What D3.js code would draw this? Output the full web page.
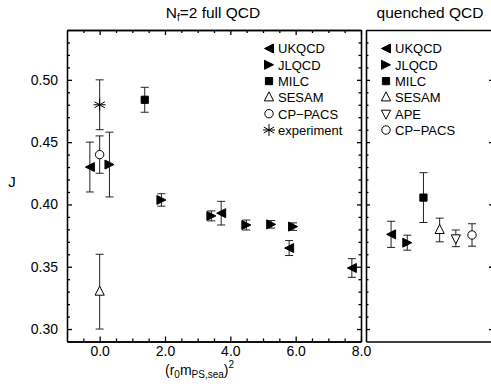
<!DOCTYPE html>
<html>
<head>
<meta charset="utf-8">
<script src="https://cdn.jsdelivr.net/npm/d3@7"></script>
<style>
  body { margin: 0; background: #fff; }
  svg { font-family: "Liberation Sans", Arial, sans-serif; }
  .axis path, .axis line { stroke: #000; stroke-width: 1.3; }
</style>
</head>
<body>
<svg id="chart" width="491" height="387"></svg>
<script>
// values: [x, J, error]
const ukqcdFull = [[-0.3, 0.430, 0.020], [3.72, 0.393, 0.0095], [5.80, 0.365, 0.006], [7.72, 0.349, 0.0075]];
const jlqcdFull = [[0.3, 0.432, 0.026], [1.89, 0.4036, 0.005], [3.42, 0.3908, 0.004], [4.49, 0.3835, 0.004], [5.25, 0.384, 0.003], [5.92, 0.3822, 0.003]];
const milcFull = [[1.38, 0.484, 0.010]];
const sesamFull = [[0.0, 0.330, 0.030]];
const cppacsFull = [[0.0, 0.440, 0.015]];
const experiment = [[0.0, 0.480, 0.020]];

const quenchedNames = ['UKQCD', 'JLQCD', 'MILC', 'SESAM', 'APE', 'CP-PACS'];
const quenchedJ = [0.376, 0.3693, 0.4055, 0.3795, 0.3728, 0.3755];
const quenchedErr = [0.0105, 0.006, 0.020, 0.0095, 0.0067, 0.009];

const fullLegend = ['UKQCD', 'JLQCD', 'MILC', 'SESAM', 'CP-PACS', 'experiment'];
const xTicks = [0, 2, 4, 6, 8];
const yTicks = [0.30, 0.35, 0.40, 0.45, 0.50];

const symbolOf = {
  'UKQCD': 'left', 'JLQCD': 'right', 'MILC': 'square', 'SESAM': 'up',
  'APE': 'down', 'CP-PACS': 'circle', 'experiment': 'star'
};

const svg = d3.select('#chart');
const plotTop = 30, plotBottom = 341.5;

const y = d3.scaleLinear().domain([0.29, 0.54]).range([plotBottom, plotTop]);
const x = d3.scaleLinear().domain([-1, 8]).range([67, 361]);
const xq = d3.scaleLinear().domain([-1.55, 6.42]).range([366, 495]);

const yMinor = d3.range(30, 54).map(d => d / 100).filter(d => Math.round(d * 100) % 5 !== 0);
const xMinor = d3.range(-1, 17).map(d => d / 2).filter(d => d % 2 !== 0);

// marker shapes
function markerPath(type) {
  switch (type) {
    case 'left': return 'M-4.5,0L4.5,-4.5L4.5,4.5Z';
    case 'right': return 'M4.5,0L-4.5,-4.5L-4.5,4.5Z';
    case 'square': return 'M-3.6,-3.6H3.6V3.6H-3.6Z';
    case 'up': return 'M0,-5.5L4.6,3.5L-4.6,3.5Z';
    case 'down': return 'M0,5.5L4.6,-3.5L-4.6,-3.5Z';
  }
  return null;
}
function drawMarker(g, type, cx, cy) {
  const filled = type === 'left' || type === 'right' || type === 'square';
  if (type === 'circle') {
    g.append('circle').attr('cx', cx).attr('cy', cy).attr('r', 4.2)
      .attr('fill', '#fff').attr('stroke', '#000').attr('stroke-width', 1);
  } else if (type === 'star') {
    [0, 60, 120].forEach(a => {
      const r = a * Math.PI / 180, L = 6;
      g.append('line')
        .attr('x1', cx - L * Math.sin(r)).attr('y1', cy - L * Math.cos(r))
        .attr('x2', cx + L * Math.sin(r)).attr('y2', cy + L * Math.cos(r))
        .attr('stroke', '#000').attr('stroke-width', 1);
    });
    g.append('line').attr('x1', cx - 6).attr('x2', cx + 6).attr('y1', cy).attr('y2', cy)
      .attr('stroke', '#000').attr('stroke-width', 1);
  } else {
    g.append('path').attr('d', markerPath(type))
      .attr('transform', `translate(${cx},${cy})`)
      .attr('fill', filled ? '#000' : '#fff')
      .attr('stroke', '#000').attr('stroke-width', 1);
  }
}
function drawErr(g, cx, yv, err) {
  const y1 = y(yv + err), y2 = y(yv - err);
  g.append('line').attr('x1', cx).attr('x2', cx).attr('y1', y1).attr('y2', y2)
    .attr('stroke', '#222').attr('stroke-width', 1);
  [y1, y2].forEach(yy => g.append('line').attr('x1', cx - 4).attr('x2', cx + 4)
    .attr('y1', yy).attr('y2', yy).attr('stroke', '#222').attr('stroke-width', 1));
}

// ---- left panel: full QCD ----
const gl = svg.append('g');

gl.append('g').attr('class', 'axis').attr('transform', `translate(${x.range()[0]},0)`)
  .call(d3.axisLeft(y).tickValues(yTicks).tickSize(-5).tickSizeOuter(0).tickPadding(9).tickFormat(d3.format('.2f')))
  .style('font-size', '14px').style('font-family', null);
gl.append('g').attr('class', 'axis').attr('transform', `translate(${x.range()[0]},0)`)
  .call(d3.axisLeft(y).tickValues(yMinor).tickSize(-3).tickSizeOuter(0).tickFormat(''));
gl.append('g').attr('class', 'axis').attr('transform', `translate(${x.range()[1]},0)`)
  .call(d3.axisRight(y).tickValues(yTicks).tickSize(-4).tickSizeOuter(0).tickFormat(''));
gl.append('g').attr('class', 'axis').attr('transform', `translate(${x.range()[1]},0)`)
  .call(d3.axisRight(y).tickValues(yMinor).tickSize(-2.5).tickSizeOuter(0).tickFormat(''));

gl.append('g').attr('class', 'axis').attr('transform', `translate(0,${plotBottom})`)
  .call(d3.axisBottom(x).tickValues(xTicks).tickSize(-5).tickSizeOuter(0).tickPadding(5).tickFormat(d3.format('.1f')))
  .style('font-size', '14px').style('font-family', null);
gl.append('g').attr('class', 'axis').attr('transform', `translate(0,${plotBottom})`)
  .call(d3.axisBottom(x).tickValues(xMinor).tickSize(-3).tickSizeOuter(0).tickFormat(''));
gl.append('g').attr('class', 'axis').attr('transform', `translate(0,${plotTop})`)
  .call(d3.axisTop(x).tickValues(xTicks).tickSize(-5).tickSizeOuter(0).tickFormat(''));
gl.append('g').attr('class', 'axis').attr('transform', `translate(0,${plotTop})`)
  .call(d3.axisTop(x).tickValues(xMinor).tickSize(-3).tickSizeOuter(0).tickFormat(''));

const fullSets = [
  ['SESAM', sesamFull], ['experiment', experiment], ['MILC', milcFull],
  ['UKQCD', ukqcdFull], ['JLQCD', jlqcdFull], ['CP-PACS', cppacsFull]
];
fullSets.forEach(([name, pts]) => pts.forEach(p => drawErr(gl, x(p[0]), p[1], p[2])));
fullSets.forEach(([name, pts]) => pts.forEach(p => drawMarker(gl, symbolOf[name], x(p[0]), y(p[1]))));

// legend, left
fullLegend.forEach((name, i) => {
  const yy = 48.5 + i * 16.3;
  drawMarker(gl, symbolOf[name], 269, yy);
  gl.append('text').attr('x', 278).attr('y', yy + 4.8).attr('font-size', 13).text(name.replace('-', '\u2212'));
});

// titles
gl.append('text').attr('x', 213).attr('y', 17.5).attr('text-anchor', 'middle').attr('font-size', 15.5)
  .html('N<tspan font-size="10" dy="3">f</tspan><tspan dy="-3">=2 full QCD</tspan>');
gl.append('text').attr('x', 12).attr('y', 187).attr('text-anchor', 'middle').attr('font-size', 15).text('J');
gl.append('text').attr('x', 165).attr('y', 375).attr('font-size', 14)
  .html('(r<tspan font-size="10" dy="3">0</tspan><tspan dy="-3">m</tspan><tspan font-size="10" dy="3">PS,sea</tspan><tspan dy="-3">)</tspan><tspan font-size="10" dy="-7">2</tspan>');

// ---- right panel: quenched QCD ----
const gr = svg.append('g');
gr.append('g').attr('class', 'axis').attr('transform', `translate(${xq.range()[0]},0)`)
  .call(d3.axisLeft(y).tickValues(yTicks).tickSize(-4).tickSizeOuter(0).tickFormat(''));
gr.append('g').attr('class', 'axis').attr('transform', `translate(${xq.range()[0]},0)`)
  .call(d3.axisLeft(y).tickValues(yMinor).tickSize(-2.5).tickSizeOuter(0).tickFormat(''));
gr.append('g').attr('class', 'axis').attr('transform', `translate(${xq.range()[1]},0)`)
  .call(d3.axisRight(y).tickValues(yTicks).tickSize(-6).tickSizeOuter(0).tickFormat(''));
gr.append('g').attr('class', 'axis').attr('transform', `translate(0,${plotBottom})`)
  .call(d3.axisBottom(xq).tickValues([]).tickSizeOuter(0));
gr.append('g').attr('class', 'axis').attr('transform', `translate(0,${plotTop})`)
  .call(d3.axisTop(xq).tickValues([]).tickSizeOuter(0));

quenchedNames.forEach((name, i) => drawErr(gr, xq(i), quenchedJ[i], quenchedErr[i]));
quenchedNames.forEach((name, i) => drawMarker(gr, symbolOf[name], xq(i), y(quenchedJ[i])));

quenchedNames.forEach((name, i) => {
  const yy = 48.5 + i * 16.3;
  drawMarker(gr, symbolOf[name], 386, yy);
  gr.append('text').attr('x', 395).attr('y', yy + 4.8).attr('font-size', 13).text(name.replace('-', '\u2212'));
});
gr.append('text').attr('x', 430).attr('y', 17.5).attr('text-anchor', 'middle').attr('font-size', 15.5).text('quenched QCD');
</script>
</body>
</html>
